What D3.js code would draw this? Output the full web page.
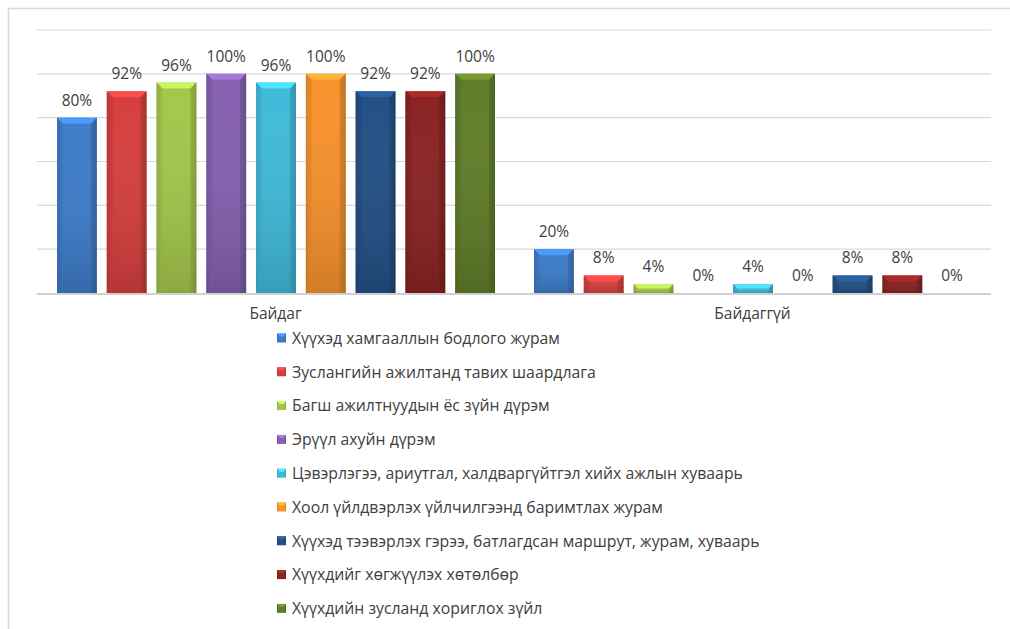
<!DOCTYPE html>
<html><head><meta charset="utf-8">
<script src="https://cdn.jsdelivr.net/npm/d3@7"></script>
<style>body{margin:0;background:#fff;}svg{display:block;font-family:"Open Sans",sans-serif;}</style>
</head><body>
<svg id="c" width="1010" height="629"></svg>
<script>
const groups = ["Байдаг", "Байдаггүй"];
const seriesNames = [
  "Хүүхэд хамгааллын бодлого журам",
  "Зуслангийн ажилтанд тавих шаардлага",
  "Багш ажилтнуудын ёс зүйн дүрэм",
  "Эрүүл ахуйн дүрэм",
  "Цэвэрлэгээ, ариутгал, халдваргүйтгэл хийх ажлын хуваарь",
  "Хоол үйлдвэрлэх үйлчилгээнд баримтлах журам",
  "Хүүхэд тээвэрлэх гэрээ, батлагдсан маршрут, журам, хуваарь",
  "Хүүхдийг хөгжүүлэх хөтөлбөр",
  "Хүүхдийн зусланд хориглох зүйл"
];
const valuesBaidag = [80, 92, 96, 100, 96, 100, 92, 92, 100];
const valuesBaidaggui = [20, 8, 4, 0, 4, 0, 8, 8, 0];
const yTicks = [0, 20, 40, 60, 80, 100, 120];
const colors = ["#3d7cc9", "#d63e3e", "#a3c64a", "#8560b0", "#3fbad9", "#f7912c", "#224f85", "#8a2222", "#5f7d28"];

const svg = d3.select("#c");
const W = 1010, H = 629;
svg.append("rect").attr("x", 8.5).attr("y", 8.5).attr("width", W + 10).attr("height", H + 10)
  .attr("fill", "#fff").attr("stroke", "#d9d9d9").attr("stroke-width", 1.5);

const x0 = d3.scaleBand().domain(groups).range([37, 991]).paddingInner(0).paddingOuter(0);
const x1 = d3.scaleBand().domain(d3.range(seriesNames.length)).range([20, x0.bandwidth() - 19]).paddingInner(0.2);
const y = d3.scaleLinear().domain([0, 120]).range([293, 30]);

const grid = svg.append("g");
grid.selectAll("line").data(yTicks.filter(t => t > 0)).join("line")
  .attr("x1", 37).attr("x2", 991).attr("y1", d => y(d)).attr("y2", d => y(d))
  .attr("stroke", "#d9d9d9").attr("stroke-width", 1.2);

const defs = svg.append("defs");
colors.forEach((c, i) => {
  const g = defs.append("linearGradient").attr("id", "g" + i).attr("x1", 0).attr("x2", 1).attr("y1", 0).attr("y2", 0);
  const base = d3.color(c);
  g.append("stop").attr("offset", "0%").attr("stop-color", base.darker(0.5));
  g.append("stop").attr("offset", "12%").attr("stop-color", base);
  g.append("stop").attr("offset", "88%").attr("stop-color", base);
  g.append("stop").attr("offset", "100%").attr("stop-color", base.darker(0.6));
  const gv = defs.append("linearGradient").attr("id", "v" + i).attr("x1", 0).attr("x2", 0).attr("y1", 0).attr("y2", 1);
  gv.append("stop").attr("offset", "0%").attr("stop-color", "#fff").attr("stop-opacity", 0);
  gv.append("stop").attr("offset", "100%").attr("stop-color", "#000").attr("stop-opacity", 0.15);
});

const data = [valuesBaidag, valuesBaidaggui];
const bevel = 6;
data.forEach((vals, gi) => {
  const g = svg.append("g").attr("transform", `translate(${x0(groups[gi])},0)`);
  vals.forEach((v, i) => {
    const bx = x1(i), bw = x1.bandwidth(), top = y(v), h = y(0) - y(v);
    if (h > 0) {
      const bg = g.append("g");
      bg.append("rect").attr("x", bx).attr("y", top).attr("width", bw).attr("height", h).attr("fill", `url(#g${i})`);
      bg.append("rect").attr("x", bx).attr("y", top).attr("width", bw).attr("height", h).attr("fill", `url(#v${i})`);
      const b = Math.min(bevel, h / 2);
      const lighter = d3.color(colors[i]).brighter(0.6);
      bg.append("path").attr("d", `M${bx},${top} L${bx + bw},${top} L${bx + bw - b},${top + b} L${bx + b},${top + b} Z`)
        .attr("fill", lighter);
      bg.append("path").attr("d", `M${bx},${top} L${bx + b},${top + b} L${bx + b},${top + h} L${bx},${top + h} Z`)
        .attr("fill", d3.color(colors[i]).darker(0.3)).attr("opacity", 0.5);
      bg.append("path").attr("d", `M${bx + bw},${top} L${bx + bw - b},${top + b} L${bx + bw - b},${top + h} L${bx + bw},${top + h} Z`)
        .attr("fill", d3.color(colors[i]).darker(0.8)).attr("opacity", 0.5);
    }
    g.append("text").attr("x", bx + bw / 2).attr("y", top - 12)
      .attr("text-anchor", "middle").attr("font-size", 15.5).attr("fill", "#404040").text(v + "%");
  });
});

svg.append("line").attr("x1", 37).attr("x2", 991).attr("y1", y(0) + 1).attr("y2", y(0) + 1)
  .attr("stroke", "#d0d0d0").attr("stroke-width", 2);

const xAxis = d3.axisBottom(x0).tickSize(0).tickPadding(14);
const ax = svg.append("g").attr("transform", `translate(0,${y(0) + 1})`).call(xAxis);
ax.select(".domain").remove();
ax.selectAll("text").attr("font-size", 15.5).attr("fill", "#404040").attr("font-family", '"Open Sans",sans-serif');

const leg = svg.append("g");
seriesNames.forEach((n, i) => {
  const ly = 338 + i * 33.8;
  const it = leg.append("g").attr("transform", `translate(277,${ly})`);
  it.append("rect").attr("x", 0).attr("y", -4.5).attr("width", 9).attr("height", 9).attr("fill", `url(#g${i})`);
  it.append("path").attr("d", "M0,-4.5 L9,-4.5 L6.5,-1.5 L2.5,-1.5 Z").attr("fill", d3.color(colors[i]).brighter(0.7));
  it.append("text").attr("x", 15).attr("y", 0).attr("dy", "0.36em").attr("font-size", 15.8)
    .attr("fill", "#404040").text(n);
});
</script>
</body></html>
